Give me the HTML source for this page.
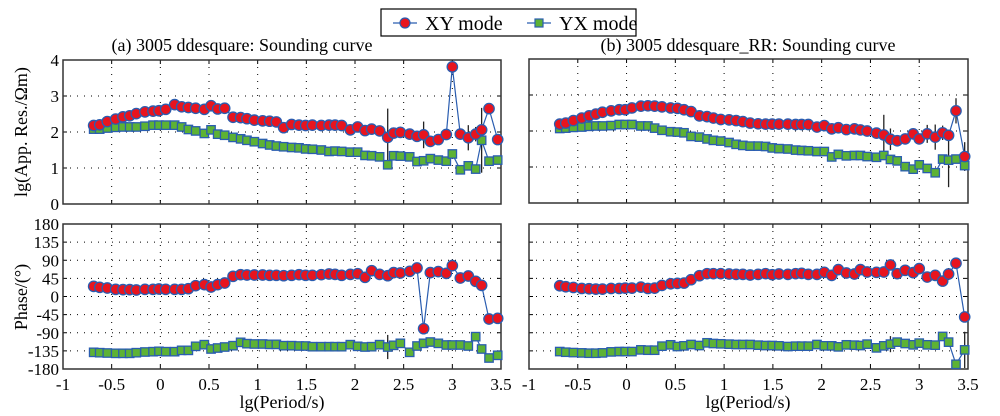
<!DOCTYPE html>
<html><head><meta charset="utf-8">
<style>
html,body{margin:0;padding:0;background:#fff;}
svg{display:block;font-family:"Liberation Serif","DejaVu Serif",serif;}
</style></head>
<body>
<svg id="chart" width="1000" height="416" viewBox="0 0 1000 416" xmlns="http://www.w3.org/2000/svg"></svg>
<script>
const periods = [-0.685,-0.623,-0.545,-0.459,-0.384,-0.315,-0.247,-0.158,-0.075,-0.014,0.055,0.147,0.219,0.288,0.363,0.452,0.521,0.589,0.661,0.747,0.825,0.890,0.966,1.051,1.123,1.192,1.267,1.349,1.425,1.493,1.562,1.654,1.733,1.795,1.863,1.952,2.027,2.103,2.171,2.253,2.336,2.397,2.466,2.562,2.637,2.705,2.774,2.856,2.938,3.000,3.082,3.164,3.240,3.301,3.377,3.466];
const resXY_a = [2.18,2.20,2.29,2.36,2.42,2.45,2.51,2.56,2.58,2.59,2.63,2.76,2.70,2.68,2.66,2.63,2.73,2.64,2.66,2.41,2.40,2.37,2.33,2.31,2.30,2.28,2.12,2.21,2.19,2.18,2.19,2.18,2.19,2.19,2.18,2.06,2.14,2.04,2.08,2.03,1.85,1.97,1.99,1.94,1.88,1.92,1.74,1.79,1.93,3.81,1.94,1.84,1.94,2.06,2.65,1.79];
const resYX_a = [2.08,2.08,2.11,2.13,2.14,2.14,2.14,2.16,2.19,2.19,2.19,2.19,2.14,2.07,2.03,1.96,2.06,1.94,1.91,1.85,1.81,1.77,1.73,1.68,1.64,1.61,1.59,1.57,1.56,1.53,1.52,1.50,1.46,1.47,1.46,1.44,1.44,1.35,1.34,1.31,1.09,1.34,1.33,1.31,1.18,1.20,1.26,1.22,1.19,1.39,0.95,1.06,0.97,1.77,1.19,1.22];
const phaXY_a = [25.2,22.8,21.1,17.8,17,17,16.1,17.8,17.8,18.6,17.8,17.8,17.8,19.4,26.9,29.4,23.6,29.4,33.5,50.1,54.2,53.4,53.4,53.4,52.6,52.6,51.7,52.6,54.2,52.6,52.6,54.2,55.9,55.0,52.6,55.0,56.7,47.6,64.1,55.0,51.7,59.2,58.3,62.5,70.8,-79.9,59.2,61.7,57.5,76.6,45.9,50.9,37.7,27.7,-55.9,-54.2];
const phaYX_a = [-138.6,-139.5,-140.3,-141.1,-141.1,-141.1,-139.5,-137.8,-137,-136.1,-137,-137,-133.7,-133.7,-123.7,-119.6,-130.3,-127.9,-125.4,-122.1,-113.8,-117.1,-117.9,-117.9,-118.8,-118.8,-122.1,-122.1,-122.9,-122.9,-124.6,-124.6,-124.6,-124.6,-124.6,-119.6,-123.7,-125.4,-124.6,-119.6,-125.4,-121.2,-116.3,-138.6,-122.9,-116.3,-113,-116.3,-120.4,-120.4,-120.4,-122.9,-99.7,-130.3,-152.7,-146];
const resXY_b = [2.19,2.22,2.29,2.36,2.42,2.47,2.52,2.56,2.59,2.59,2.64,2.69,2.70,2.69,2.67,2.64,2.63,2.59,2.54,2.42,2.40,2.36,2.32,2.31,2.29,2.26,2.22,2.20,2.19,2.19,2.19,2.19,2.18,2.18,2.18,2.11,2.15,2.06,2.09,2.04,2.06,2.03,2.00,1.94,1.89,1.77,1.73,1.78,1.92,1.78,1.92,1.83,1.95,1.88,2.56,1.29];
const resYX_b = [2.07,2.08,2.10,2.11,2.13,2.14,2.14,2.15,2.18,2.18,2.18,2.14,2.14,2.08,2.02,1.98,1.97,1.95,1.85,1.83,1.78,1.74,1.72,1.68,1.63,1.60,1.58,1.58,1.57,1.53,1.51,1.50,1.47,1.46,1.45,1.43,1.43,1.28,1.35,1.31,1.32,1.32,1.29,1.27,1.32,1.21,1.17,1.01,0.94,1.06,0.96,0.84,1.22,1.19,1.22,1.04];
const phaXY_b = [26.7,24.2,22.5,20,19.2,18.3,18.3,20,20,20.8,20.8,23.3,20,20.8,27.5,31.7,32.5,33.3,41.7,51.7,56.7,56.7,56.7,55.8,55,55,53.3,55,56.7,54.2,55.8,55,56.7,57.5,55,55,60,52.5,66.7,58.3,55.8,66.7,60.8,60,60.8,78.3,56.7,65,59.2,69.2,48.3,52.5,38.3,55.8,82.5,-50.8];
const phaYX_b = [-136.7,-138.3,-139.2,-140,-140.8,-140.8,-140,-137.5,-136.7,-136.7,-136.7,-132.5,-133.3,-133.3,-123.3,-120,-124.2,-122.5,-119.2,-121.7,-115,-116.7,-117.5,-118.3,-119.2,-119.2,-119.2,-120.8,-121.7,-121.7,-122.5,-124.2,-123.3,-123.3,-123.3,-119.2,-122.5,-122.5,-125,-120,-120.8,-121.7,-118.3,-127.5,-122.5,-118.3,-113.3,-116.7,-120,-115.8,-120,-120.8,-99.2,-113.3,-168.3,-132.5];
// error bars: [panel, series, index, half-size]
const errBars = [["aT","xy",40,0.8],["aT","xy",45,0.37],["aT","xy",51,0.35],["aT","yx",53,0.9],["aT","xy",52,0.2],
  ["aB","yx",40,30],
  ["bT","xy",44,0.56],["bT","xy",45,0.3],["bT","xy",50,0.25],["bT","xy",51,0.35],["bT","xy",52,0.2],["bT","yx",53,0.75],["bT","xy",54,0.35],["bT","xy",55,0.4],
  ["bB","yx",45,20],["bB","xy",53,15],["bB","yx",55,45]];
const xTicks = [-1,-0.5,0,0.5,1,1.5,2,2.5,3,3.5];
const xTickLabels = ["-1","-0.5","0","0.5","1","1.5","2","2.5","3","3.5"];
const resTicks = [0,1,2,3,4];
const phaTicks = [-180,-135,-90,-45,0,45,90,135,180];

const NS="http://www.w3.org/2000/svg";
const svg=document.getElementById('chart');
function mk(tag,attrs,parent){const e=document.createElementNS(NS,tag);for(const k in attrs)e.setAttribute(k,attrs[k]);(parent||svg).appendChild(e);return e;}

const panels = {
  aT:{x0:63,x1:501,y0:60,y1:204,ymin:0,ymax:4,ticks:resTicks,xy:resXY_a,yx:resYX_a,ylab:true,xlab:false},
  aB:{x0:63,x1:501,y0:224,y1:369,ymin:-180,ymax:180,ticks:phaTicks,xy:phaXY_a,yx:phaYX_a,ylab:true,xlab:true},
  bT:{x0:529,x1:968,y0:59,y1:203,ymin:0,ymax:4,ticks:resTicks,xy:resXY_b,yx:resYX_b,ylab:false,xlab:false},
  bB:{x0:529,x1:968,y0:224,y1:369,ymin:-180,ymax:180,ticks:phaTicks,xy:phaXY_b,yx:phaYX_b,ylab:false,xlab:true}
};
for(const key in panels){
  const p=panels[key];
  p.sx=v=>p.x0+(v+1)/4.5*(p.x1-p.x0);
  p.sy=v=>p.y1-(v-p.ymin)/(p.ymax-p.ymin)*(p.y1-p.y0);
  const g=mk('g',{});
  
  
  xTicks.forEach((t,i)=>{
    const x=p.sx(t);
    if(i>0&&i<xTicks.length-1){const l=mk('line',{x1:x,x2:x,y1:p.y0,y2:p.y1,stroke:'#000','stroke-width':1,'stroke-dasharray':'1 6'},g);
      }
    mk('line',{x1:x,x2:x,y1:p.y1,y2:p.y1-4,stroke:'#000'},g);
    mk('line',{x1:x,x2:x,y1:p.y0,y2:p.y0+4,stroke:'#000'},g);
    if(p.xlab){const t2=mk('text',{x:x,y:p.y1+21,'text-anchor':'middle','font-size':17},g);t2.textContent=xTickLabels[i];
      }
  });
  p.ticks.forEach((t,i)=>{
    const y=p.sy(t);
    if(i>0&&i<p.ticks.length-1){const l=mk('line',{x1:p.x0,x2:p.x1,y1:y,y2:y,stroke:'#000','stroke-width':1,'stroke-dasharray':'1 6'},g);
      }
    mk('line',{x1:p.x0,x2:p.x0+4,y1:y,y2:y,stroke:'#000'},g);
    mk('line',{x1:p.x1,x2:p.x1-4,y1:y,y2:y,stroke:'#000'},g);
    if(p.ylab){const t2=mk('text',{x:p.x0-4,y:y+6,'text-anchor':'end','font-size':17},g);t2.textContent=String(t);
      }
  });
  const frame=mk('rect',{x:p.x0,y:p.y0,width:p.x1-p.x0,height:p.y1-p.y0,fill:'none',stroke:'#333','stroke-width':1.5},g);
  
  errBars.filter(e=>e[0]===key).forEach(e=>{
    const arr=p[e[1]];const v=arr[e[2]];const x=p.sx(periods[e[2]]);
    const l=mk('line',{x1:x,x2:x,y1:p.sy(v+e[3]),y2:p.sy(v-e[3]),stroke:'#222','stroke-width':1.3},g);
    
  });
  ['yx','xy'].forEach(s=>{
    const arr=p[s];
    const pts=arr.map((v,i)=>p.sx(periods[i]).toFixed(1)+','+p.sy(v).toFixed(1)).join(' ');
    const pl=mk('polyline',{points:pts,fill:'none',stroke:'#2a5db0','stroke-width':1.2},g);
    
    arr.forEach((v,i)=>{
      const x=p.sx(periods[i]),y=p.sy(v);let m;
      if(s==='xy'){m=mk('circle',{cx:x,cy:y,r:5.2,fill:'#e8141e',stroke:'#2a5db0','stroke-width':1.3},g);}
      else{m=mk('rect',{x:x-4.2,y:y-4.2,width:8.4,height:8.4,fill:'#5db234',stroke:'#2a5db0','stroke-width':1.3},g);}
      
      
    });
  });
}
function txt(x,y,s,size,name,extra){const t=mk('text',Object.assign({x:x,y:y,'font-size':size,'text-anchor':'middle'},extra||{}));t.textContent=s;
  return t;}
txt(242,51,'(a) 3005 ddesquare: Sounding curve',18,'title-a');
txt(748,51,'(b) 3005 ddesquare_RR: Sounding curve',18,'title-b');
txt(0,0,'lg(App. Res./Ωm)',18,'y-axis-title-resistivity',{transform:'translate(27,132) rotate(-90)'});
txt(0,0,'Phase/(°)',18,'y-axis-title-phase',{transform:'translate(27,297) rotate(-90)'});
txt(282,408,'lg(Period/s)',18,'x-axis-title-a');
txt(748,408,'lg(Period/s)',18,'x-axis-title-b');
const lg=mk('g',{});


mk('rect',{x:381,y:9,width:255,height:27,fill:'#fff',stroke:'#000','stroke-width':1.2},lg);
mk('line',{x1:393,x2:417,y1:23,y2:23,stroke:'#2a5db0','stroke-width':1.2},lg);
mk('circle',{cx:405,cy:23,r:5,fill:'#e8141e',stroke:'#2a5db0','stroke-width':1.2},lg);
const l1=mk('text',{x:425,y:30,'font-size':20},lg);l1.textContent='XY mode';

mk('line',{x1:527,x2:551,y1:23,y2:23,stroke:'#2a5db0','stroke-width':1.2},lg);
mk('rect',{x:535,y:19,width:8,height:8,fill:'#5db234',stroke:'#2a5db0','stroke-width':1.2},lg);
const l2=mk('text',{x:559,y:30,'font-size':20},lg);l2.textContent='YX mode';

</script>
</body></html>
